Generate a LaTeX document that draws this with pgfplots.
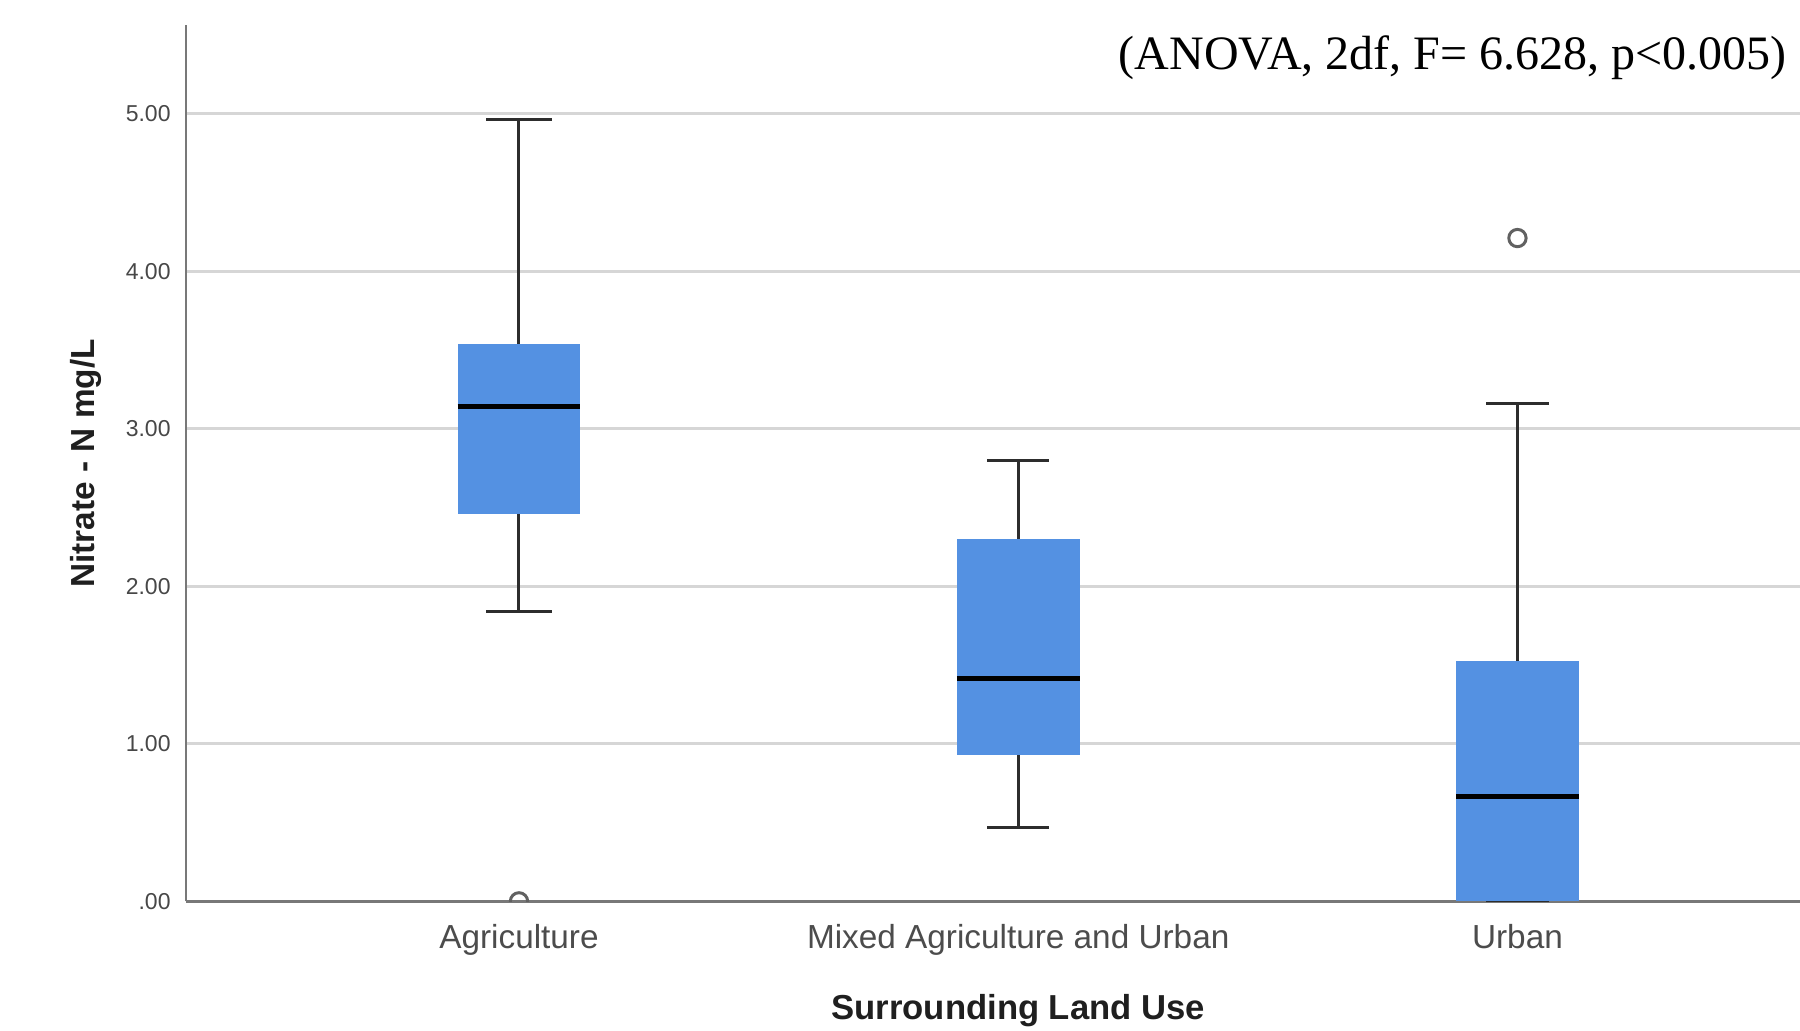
\documentclass[border=0pt]{standalone}
\usepackage{pgfplots}
\pgfplotsset{compat=1.18}
\usepgfplotslibrary{statistics}
\usepackage{fontspec}
\setmainfont{Liberation Sans}
\newfontfamily\timesfont{Liberation Serif}
\definecolor{boxblue}{RGB}{84,145,226}
\definecolor{gridc}{RGB}{214,214,214}
\definecolor{axc}{RGB}{120,120,120}
\definecolor{whc}{RGB}{45,45,45}
\begin{document}
\begin{tikzpicture}
\useasboundingbox (-55.8pt,-38.6pt) rectangle (484.2pt,270.4pt);
\begin{axis}[
 scale only axis, width=484.2pt, height=262.8pt,
 xmin=-0.667, xmax=2.566, ymin=0, ymax=5.56,
 axis lines*=left, axis line style={axc, line width=0.7pt},
 xtick={0,1,2}, xticklabels={Agriculture, Mixed Agriculture and Urban, Urban},
 ytick={0,1,2,3,4,5}, yticklabels={.00,1.00,2.00,3.00,4.00,5.00},
 major tick length=0pt,
 ymajorgrids, grid style={gridc, line width=0.9pt},
 xticklabel style={font=\fontsize{10}{12}\selectfont, text=black!70, yshift=-3.4pt},
 yticklabel style={font=\fontsize{6.9}{8.5}\selectfont, text=black!72, xshift=-1.1pt},
 xlabel={Surrounding Land Use}, ylabel={Nitrate - N mg/L},
 xlabel style={font=\bfseries\fontsize{10.4}{12}\selectfont, at={(axis description cs:0.5156,-0.1245)}, anchor=center, text=black!88},
 ylabel style={font=\bfseries\fontsize{10}{12}\selectfont, at={(axis description cs:-0.062,0.5)}, anchor=center, text=black!88},
 boxplot/draw direction=y,
 boxplot/every box/.style={draw=none, fill=boxblue},
 boxplot/every whisker/.style={draw=whc, line width=0.9pt},
 boxplot/every median/.style={draw=black, line width=1.5pt},
 clip mode=individual,
 clip marker paths=true,
]
\addplot[boxplot prepared={median=3.14, upper quartile=3.54, lower quartile=2.456, upper whisker=4.96, lower whisker=1.84, draw position=0, box extend=0.246, whisker extend=0.131},
  draw=whc, mark=o, mark size=2.6pt, mark options={draw=black!62, line width=0.9pt, fill=none}]
  table[row sep=\\, y index=0] {data\\ 0.0\\};
\addplot[boxplot prepared={median=1.414, upper quartile=2.30, lower quartile=0.926, upper whisker=2.80, lower whisker=0.466, draw position=1, box extend=0.246, whisker extend=0.125},
  draw=whc, mark=o, mark size=2.6pt, mark options={draw=black!62, line width=0.9pt, fill=none}]
  coordinates {};
\addplot[boxplot prepared={median=0.663, upper quartile=1.523, lower quartile=0.0, upper whisker=3.16, lower whisker=0.0, draw position=2, box extend=0.246, whisker extend=0.125},
  draw=whc, mark=o, mark size=2.6pt, mark options={draw=black!62, line width=0.9pt, fill=none}]
  table[row sep=\\, y index=0] {data\\ 4.21\\};
\node[anchor=east, inner sep=0pt, font=\timesfont\fontsize{14.4}{17}\selectfont] at (rel axis cs:1,0.963) [xshift=-3.8pt] {(ANOVA, 2df, F= 6.628, p<0.005)};
\end{axis}
\end{tikzpicture}
\end{document}
